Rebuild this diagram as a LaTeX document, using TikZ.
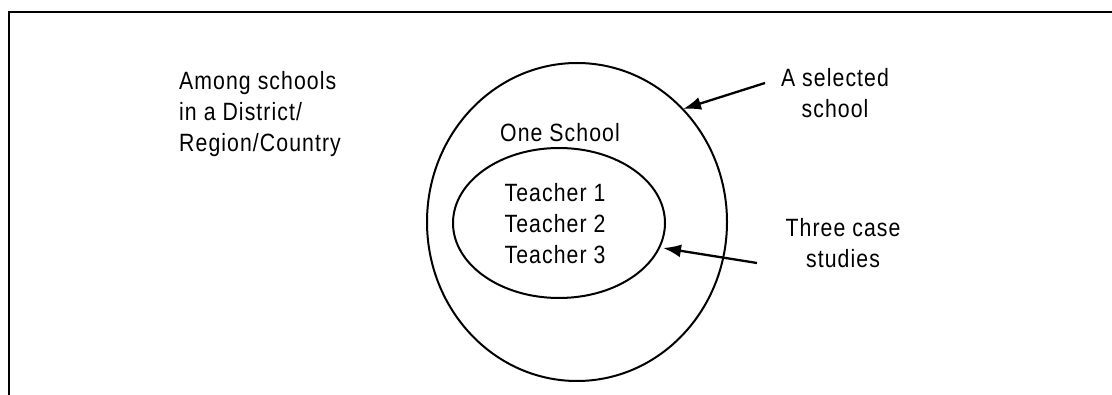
\documentclass[tikz,border=0pt]{standalone}
\usepackage{fontspec}
\setmainfont[FakeStretch=0.85,LetterSpace=4.3]{Liberation Sans}
\usetikzlibrary{shapes.geometric,arrows.meta}
\begin{document}
\begin{tikzpicture}[x=1pt,y=-1pt,
  lbl/.style={inner sep=0pt,font=\fontsize{25}{31}\selectfont},
  ring/.style={draw,ellipse,inner sep=0pt,line width=2pt},
  pointer/.style={line width=2.3pt,-{Latex[length=18pt,width=13pt]}}]
\useasboundingbox (0,0) rectangle (1112,395);
\draw[line width=2.8pt] (9,396) -- (9,12) -- (1113,12);
\node[ring,minimum width=300pt,minimum height=318pt] (outer) at (577,222) {};
\node[ring,minimum width=212pt,minimum height=150pt] (inner) at (559,223) {};
\node[lbl,anchor=base west,align=left] (among) at (179,152) {Among schools\\in a District/\\Region/Country};
\node[lbl,anchor=base] (one) at (560,142) {One School};
\node[lbl,anchor=base,align=center] (teach) at (555,264) {Teacher 1\\Teacher 2\\Teacher 3};
\node[lbl,anchor=base,align=center] (sel) at (835,118) {A selected\\school};
\node[lbl,anchor=base,align=center] (three) at (843,268) {Three case\\studies};
\coordinate (a1s) at (765,83);
\coordinate (a1e) at (683,109);
\coordinate (a2s) at (757,263);
\coordinate (a2e) at (663,248);
\draw[pointer] (a1s) -- (a1e);
\draw[pointer] (a2s) -- (a2e);
\end{tikzpicture}
\end{document}
